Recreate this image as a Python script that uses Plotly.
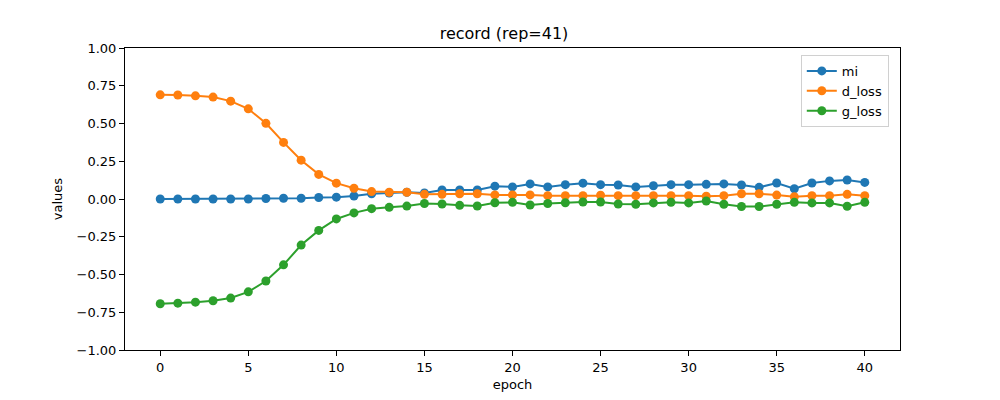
import plotly.graph_objects as go

epochs = list(range(41))

mi = [0.0, 0.0, 0.0, 0.0, 0.0, 0.0, 0.003, 0.005, 0.005, 0.01, 0.012, 0.02, 0.035, 0.04,
      0.045, 0.04, 0.06, 0.06, 0.06, 0.085, 0.08, 0.10, 0.08, 0.095, 0.105, 0.095, 0.093,
      0.08, 0.088, 0.095, 0.095, 0.097, 0.10, 0.093, 0.077, 0.106, 0.068, 0.106, 0.12,
      0.126, 0.11]
d_loss = [0.69, 0.689, 0.683, 0.675, 0.648, 0.597, 0.501, 0.375, 0.257, 0.163, 0.105,
          0.071, 0.049, 0.045, 0.045, 0.031, 0.031, 0.035, 0.035, 0.027, 0.027, 0.027,
          0.022, 0.022, 0.022, 0.025, 0.022, 0.022, 0.022, 0.022, 0.022, 0.018, 0.022,
          0.035, 0.035, 0.026, 0.015, 0.022, 0.022, 0.031, 0.022]
g_loss = [-0.694, -0.69, -0.683, -0.674, -0.656, -0.615, -0.543, -0.436, -0.305, -0.208,
          -0.132, -0.092, -0.064, -0.055, -0.047, -0.03, -0.033, -0.042, -0.046, -0.025,
          -0.022, -0.04, -0.03, -0.025, -0.02, -0.02, -0.033, -0.035, -0.026, -0.022,
          -0.026, -0.013, -0.035, -0.05, -0.05, -0.035, -0.022, -0.026, -0.026, -0.048,
          -0.022]

series = [("mi", mi, "#1f77b4"), ("d_loss", d_loss, "#ff7f0e"), ("g_loss", g_loss, "#2ca02c")]

fig = go.Figure()
for name, vals, color in series:
    fig.add_trace(go.Scatter(x=epochs, y=vals, mode="lines+markers", name=name,
                             line=dict(color=color, width=2),
                             marker=dict(color=color, size=9)))

axis_style = dict(showline=True, linecolor="black", linewidth=1, mirror=True,
                  ticks="outside", ticklen=5, tickcolor="black", showgrid=False,
                  zeroline=False, automargin=False, tickfont=dict(size=13, color="black"))

# page body has an 8px margin, so the figure is a bit smaller than the window
fig.update_layout(
    width=992, height=392,
    margin=dict(l=117, r=100, t=40, b=50),
    paper_bgcolor="white", plot_bgcolor="white",
    font=dict(family="DejaVu Sans", size=13, color="black"),
    title=dict(text="record (rep=41)", x=0.5, xanchor="center", y=0.934, yanchor="middle",
               font=dict(size=16)),
    xaxis=dict(title=dict(text="epoch", standoff=6, font=dict(size=13)), range=[-2, 42],
               tickvals=[0, 5, 10, 15, 20, 25, 30, 35, 40], **axis_style),
    yaxis=dict(title=dict(text="values", standoff=11, font=dict(size=13)), range=[-1, 1],
               dtick=0.25, tickformat=".2f", **axis_style),
    legend=dict(x=0.872, y=0.977, xanchor="left", yanchor="top",
                bordercolor="#d0d0d0", borderwidth=1, bgcolor="rgba(255,255,255,0.8)",
                font=dict(size=13)),
    showlegend=True,
)

fig.write_html("out.html")
